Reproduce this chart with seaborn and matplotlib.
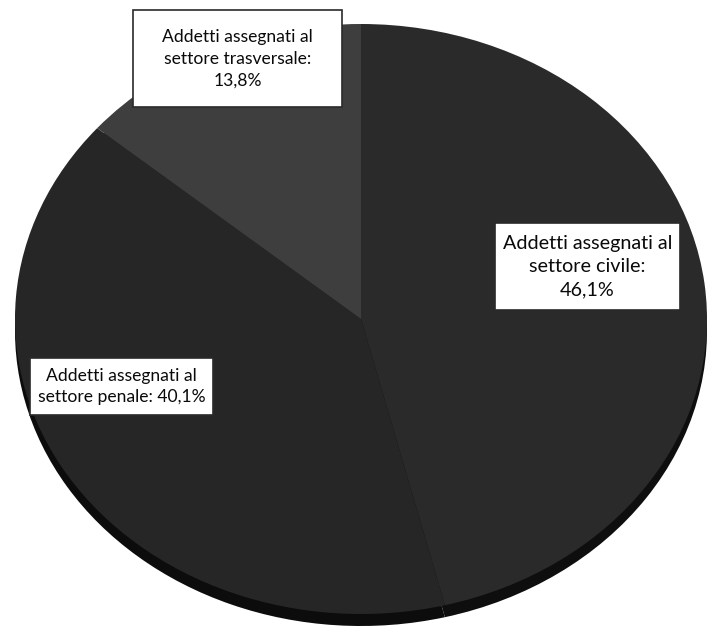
import matplotlib
matplotlib.use("Agg")
import matplotlib.pyplot as plt
from matplotlib.patches import Rectangle
import seaborn as sns

# Quota di addetti per settore (%)
settori = ["civile", "penale", "trasversale"]
quote = [46.1, 40.1, 13.8]
colori_faccia = ["#2a2a2a", "#262626", "#3e3e3e"]
colori_lato = ["#0e0e0e", "#0c0c0c", "#141414"]

sns.set_theme(style="white")
plt.rcParams["font.family"] = ["Lato", "DejaVu Sans"]

W, H = 709, 628
fig = plt.figure(figsize=(W / 100, H / 100), dpi=100)
ax = fig.add_axes([0, 0, 1, 1])

# Ellipse geometry in pixels: top face centre, semi-axes, disc thickness
cx, cy, a, b, spessore = 361, 319, 346, 295, 12

# Side of the disc (3D thickness), drawn below the top face
ax.pie(quote, colors=colori_lato, startangle=90, counterclock=False,
       radius=1, center=(0, -spessore / b), frame=True,
       wedgeprops=dict(linewidth=0))
# Top face
ax.pie(quote, colors=colori_faccia, startangle=90, counterclock=False,
       radius=1, center=(0, 0), frame=True,
       wedgeprops=dict(linewidth=0))
ax.set_aspect("auto")
ax.set_xlim((0 - cx) / a, (W - cx) / a)
ax.set_ylim((cy - H) / b, cy / b)
ax.axis("off")


def fmt(v):
    return f"{v:.1f}%".replace(".", ",")


etichette = {
    "civile": f"Addetti assegnati al\nsettore civile:\n{fmt(quote[0])}",
    "penale": f"Addetti assegnati al\nsettore penale: {fmt(quote[1])}",
    "trasversale": f"Addetti assegnati al\nsettore trasversale:\n{fmt(quote[2])}",
}
# Label boxes in pixels: (left, top, right, bottom) and font size
riquadri = {
    "civile": (495, 223, 680, 310),
    "penale": (30, 358, 213, 415),
    "trasversale": (133, 10, 342, 107),
}
corpo = {"civile": 14.2, "penale": 12.6, "trasversale": 12.6}

for s in settori:
    x0, y0, x1, y1 = riquadri[s]
    ax.add_patch(Rectangle((x0 / W, 1 - y1 / H), (x1 - x0) / W, (y1 - y0) / H,
                           transform=ax.transAxes, facecolor="white",
                           edgecolor="#2a2a2a", linewidth=1.2, zorder=3))
    ax.text((x0 + x1) / 2 / W, 1 - (y0 + y1) / 2 / H, etichette[s],
            transform=ax.transAxes, ha="center", va="center",
            fontsize=corpo[s], color="#0a0a0a", linespacing=1.45, zorder=4)

fig.savefig("out.png", dpi=100)
